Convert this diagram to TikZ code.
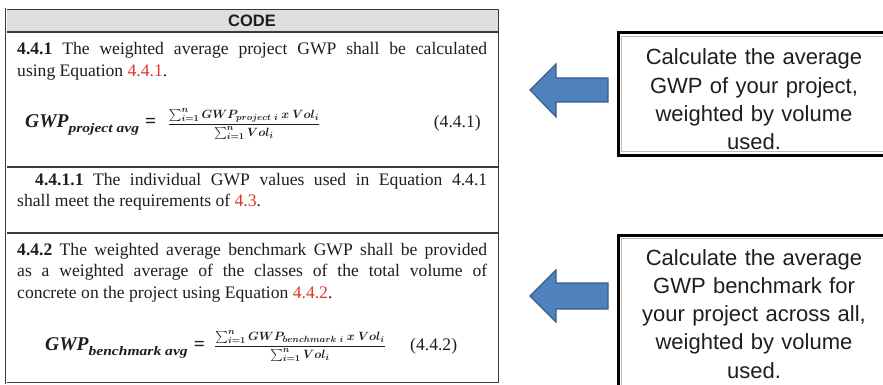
\documentclass[tikz,border=0pt]{standalone}
\usepackage{amsmath}
\usepackage{graphicx}
\usepackage{fontspec}
\setmainfont{Liberation Serif}
\setsansfont{Liberation Sans}
\definecolor{refred}{HTML}{E0352B}
\definecolor{arrowfill}{HTML}{4F81BD}
\definecolor{arrowline}{HTML}{385D8A}
\definecolor{rule}{HTML}{3A3A3A}
\definecolor{headfill}{HTML}{DEDEDE}
\definecolor{ink}{HTML}{1E1E1E}
\tikzset{
  codetext/.style={anchor=base west, inner sep=0pt, text width=470pt, align=justify,
    font=\fontsize{17.6}{21.5}\selectfont, text=ink},
  eqtext/.style={anchor=base west, inner sep=0pt, text=ink},
  fractext/.style={inner sep=0pt, font=\fontsize{12.5}{14}\selectfont, text=ink},
  eqnum/.style={anchor=base west, inner sep=0pt, font=\fontsize{17.6}{20}\selectfont, text=ink},
  noteframe/.style={draw=black, line width=3pt},
  noteinner/.style={draw=gray!55, line width=0.8pt},
  notetext/.style={anchor=base, inner sep=0pt, text width=250pt, align=center,
    font=\sffamily\fontsize{22}{28.3}\selectfont, text=ink},
  blockarrow/.style={fill=arrowfill, draw=arrowline, line width=1.1pt, line join=miter},
  tableframe/.style={draw=rule, line width=0.5pt, double=white, double distance=1pt},
  rowrule/.style={draw=rule, line width=1.3pt}
}
\newcommand{\rref}[1]{\textcolor{refred}{#1}}
% left-hand side of an equation: GWP with a wide subscript, then "="
\newcommand{\gwplhs}[1]{{\fontsize{19.5}{21}\selectfont\bfseries\itshape GWP\raisebox{-5pt}{\fontsize{13}{15}\selectfont\scalebox{1.2}[1]{#1}}}\hspace{6pt}{\fontsize{19.5}{21}\selectfont\bfseries =}}
% weighted-average fraction
\newcommand{\gwpfrac}[1]{{\boldmath$\dfrac{\sum_{i=1}^{n} GWP_{#1\ i}\ x\ Vol_i}{\sum_{i=1}^{n} Vol_i}$}}
\begin{document}
\begin{tikzpicture}[x=1pt, y=-1pt]
\useasboundingbox (0,0) rectangle (883,385);
\clip (0,0) rectangle (883,385);

% code table: header, three rows
\fill[headfill] (6,9) rectangle (499,32);
\draw[rowrule] (6,32) -- (499,32);
\draw[rowrule] (6,167) -- (499,167);
\draw[rowrule] (6,233) -- (499,233);
\draw[tableframe] (6,9) rectangle (499,383);
\node[anchor=base, inner sep=0pt, font=\sffamily\bfseries\fontsize{16.5}{20}\selectfont, text=ink]
  (head) at (252,27) {CODE};

% clause 4.4.1
\node[codetext] (c441) at (17,55)
  {\textbf{4.4.1} The weighted average project GWP shall be calculated\linebreak
   using Equation \rref{4.4.1}.};
\node[eqtext] (eq1l) at (25,128) {\gwplhs{project avg}};
\node[fractext, anchor=center] (eq1f) at (244,124) {\gwpfrac{project}};
\node[eqnum, anchor=base east] (eq1n) at (481,128) {(4.4.1)};

% clause 4.4.1.1
\node[codetext] (c4411) at (17,185)
  {\hspace*{18pt}\textbf{4.4.1.1} The individual GWP values used in Equation 4.4.1\linebreak
   shall meet the requirements of \rref{4.3}.};

% clause 4.4.2
\node[codetext] (c442) at (17,255)
  {\textbf{4.4.2} The weighted average benchmark GWP shall be provided\linebreak
   as a weighted average of the classes of the total volume of\linebreak
   concrete on the project using Equation \rref{4.4.2}.};
\node[eqtext] (eq2l) at (45,350) {\gwplhs{benchmark avg}};
\node[fractext, anchor=center] (eq2f) at (300,346) {\gwpfrac{benchmark}};
\node[eqnum] (eq2n) at (410,350) {(4.4.2)};

% explanatory boxes
\draw[noteframe] (618,33) rectangle (892,155);
\draw[noteinner] (621.5,36.5) rectangle (892,151.5);
\node[notetext] (note1) at (754,65)
  {Calculate the average\\ GWP of your project,\\ weighted by volume\\ used.};
\draw[noteframe] (618,235) rectangle (892,386);
\draw[noteinner] (621.5,238.5) rectangle (892,386);
\node[notetext] (note2) at (754,265)
  {Calculate the average\\ GWP benchmark for\\ your project across all,\\ weighted by volume\\ used.};

% block arrows pointing at the clauses
\draw[blockarrow] (530,90) -- (556,64) -- (556,78) -- (608,78) -- (608,102)
  -- (556,102) -- (556,117) -- cycle;
\draw[blockarrow] (530,296) -- (556,270) -- (556,283) -- (608,283) -- (608,309)
  -- (556,309) -- (556,322) -- cycle;
\end{tikzpicture}
\end{document}
